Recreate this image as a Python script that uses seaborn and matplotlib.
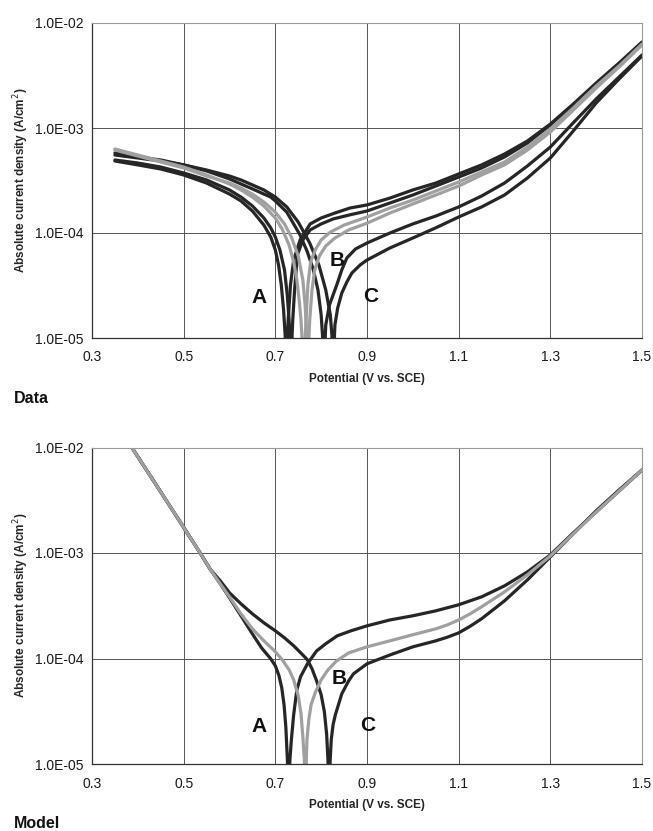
import matplotlib
matplotlib.use("Agg")
import matplotlib.pyplot as plt
from matplotlib.ticker import FixedLocator, FuncFormatter, LogLocator, MultipleLocator, NullFormatter
import numpy as np
import pandas as pd
import seaborn as sns

# ---------------------------------------------------------------------------
# Polarization curves: potential (V vs. SCE) and absolute current density (A/cm^2)
# Each curve runs through its corrosion potential, where |i| drops towards zero.
# ---------------------------------------------------------------------------

# Measured data, A (two runs), B (two runs), C (two runs)
data_A1_E = [0.35, 0.40, 0.45, 0.50, 0.55, 0.60, 0.625, 0.65, 0.675, 0.69,
             0.70, 0.707, 0.713, 0.718, 0.7215, 0.724, 0.7265, 0.728, 0.733, 0.74,
             0.754, 0.776, 0.80, 0.83, 0.863, 0.90, 0.95, 1.00, 1.05, 1.10,
             1.15, 1.20, 1.25, 1.30, 1.35, 1.40, 1.45, 1.50]
data_A1_i = [4.85e-4, 4.45e-4, 4.07e-4, 3.57e-4, 2.99e-4, 2.35e-4, 2.02e-4, 1.62e-4, 1.19e-4, 9.16e-5,
             6.89e-5, 4.96e-5, 3.20e-5, 1.85e-5, 1.05e-5, 1.0e-6, 1.05e-5, 1.48e-5, 3.20e-5, 5.53e-5,
             8.58e-5, 1.22e-4, 1.39e-4, 1.55e-4, 1.73e-4, 1.85e-4, 2.15e-4, 2.57e-4, 2.99e-4, 3.65e-4,
             4.45e-4, 5.65e-4, 7.52e-4, 1.09e-3, 1.69e-3, 2.68e-3, 4.16e-3, 6.59e-3]

data_A2_E = [0.35, 0.40, 0.45, 0.50, 0.55, 0.60, 0.625, 0.65, 0.675, 0.69,
             0.70, 0.71, 0.72, 0.726, 0.73, 0.7315, 0.734, 0.7365, 0.738, 0.742,
             0.748, 0.76, 0.776, 0.80, 0.826, 0.86, 0.90, 0.95, 1.00, 1.05,
             1.10, 1.15, 1.20, 1.25, 1.30, 1.35, 1.40, 1.45, 1.50]
data_A2_i = [4.96e-4, 4.64e-4, 4.25e-4, 3.73e-4, 3.20e-4, 2.57e-4, 2.20e-4, 1.81e-4, 1.39e-4, 1.12e-4,
             9.16e-5, 6.89e-5, 4.45e-5, 2.57e-5, 1.48e-5, 1.05e-5, 1.0e-6, 1.05e-5, 1.48e-5, 2.87e-5,
             6.17e-5, 8.58e-5, 1.07e-4, 1.22e-4, 1.36e-4, 1.48e-4, 1.62e-4, 1.93e-4, 2.30e-4, 2.80e-4,
             3.41e-4, 4.16e-4, 5.30e-4, 7.20e-4, 1.07e-3, 1.66e-3, 2.63e-3, 4.07e-3, 6.45e-3]

data_B1_E = [0.35, 0.40, 0.45, 0.50, 0.55, 0.60, 0.625, 0.65, 0.675, 0.70,
             0.715, 0.73, 0.74, 0.747, 0.752, 0.756, 0.758, 0.762, 0.7655, 0.767,
             0.771, 0.777, 0.787, 0.80, 0.82, 0.85, 0.90, 0.95, 1.00, 1.05,
             1.10, 1.15, 1.20, 1.25, 1.30, 1.35, 1.40, 1.45, 1.50]
data_B1_i = [6.31e-4, 5.53e-4, 4.85e-4, 4.25e-4, 3.57e-4, 2.93e-4, 2.57e-4, 2.20e-4, 1.81e-4, 1.39e-4,
             1.09e-4, 7.69e-5, 5.30e-5, 3.57e-5, 2.30e-5, 1.48e-5, 1.05e-5, 1.0e-6, 1.05e-5, 1.48e-5,
             3.20e-5, 5.30e-5, 6.89e-5, 8.58e-5, 1.02e-4, 1.19e-4, 1.42e-4, 1.73e-4, 2.06e-4, 2.51e-4,
             3.06e-4, 3.81e-4, 4.74e-4, 6.59e-4, 9.78e-4, 1.55e-3, 2.51e-3, 3.90e-3, 6.31e-3]

data_B2_E = [0.35, 0.40, 0.45, 0.50, 0.55, 0.60, 0.625, 0.65, 0.675, 0.70,
             0.72, 0.735, 0.75, 0.76, 0.765, 0.768, 0.7705, 0.7735, 0.775, 0.780,
             0.786, 0.796, 0.81, 0.83, 0.86, 0.90, 0.95, 1.00, 1.05, 1.10,
             1.15, 1.20, 1.25, 1.30, 1.35, 1.40, 1.45, 1.50]
data_B2_i = [6.17e-4, 5.41e-4, 4.74e-4, 4.16e-4, 3.49e-4, 2.99e-4, 2.68e-4, 2.35e-4, 1.97e-4, 1.58e-4,
             1.22e-4, 9.16e-5, 6.04e-5, 3.57e-5, 2.06e-5, 1.19e-5, 1.0e-6, 1.05e-5, 1.48e-5, 2.87e-5,
             4.45e-5, 6.04e-5, 7.52e-5, 8.96e-5, 1.07e-4, 1.24e-4, 1.55e-4, 1.89e-4, 2.30e-4, 2.80e-4,
             3.57e-4, 4.45e-4, 6.17e-4, 9.16e-4, 1.48e-3, 2.40e-3, 3.81e-3, 6.17e-3]

data_C1_E = [0.35, 0.40, 0.45, 0.50, 0.55, 0.60, 0.625, 0.65, 0.675, 0.69,
             0.70, 0.725, 0.754, 0.77, 0.783, 0.793, 0.80, 0.803, 0.806, 0.809,
             0.81, 0.818, 0.826, 0.834, 0.845, 0.856, 0.875, 0.90, 0.95, 1.00,
             1.05, 1.10, 1.15, 1.20, 1.25, 1.30, 1.35, 1.40, 1.45, 1.50]
data_C1_i = [5.78e-4, 5.30e-4, 4.96e-4, 4.45e-4, 3.90e-4, 3.27e-4, 2.93e-4, 2.63e-4, 2.35e-4, 2.20e-4,
             2.02e-4, 1.58e-4, 9.57e-5, 6.59e-5, 4.45e-5, 2.87e-5, 1.66e-5, 1.05e-5, 1.0e-6, 1.05e-5,
             1.33e-5, 2.06e-5, 2.57e-5, 3.20e-5, 4.45e-5, 5.78e-5, 7.05e-5, 8.03e-5, 1.00e-4, 1.22e-4,
             1.45e-4, 1.77e-4, 2.25e-4, 2.99e-4, 4.35e-4, 6.59e-4, 1.12e-3, 1.89e-3, 3.06e-3, 4.96e-3]

data_C2_E = [0.35, 0.40, 0.45, 0.50, 0.55, 0.60, 0.625, 0.65, 0.675, 0.70,
             0.725, 0.75, 0.775, 0.795, 0.81, 0.82, 0.8235, 0.8265, 0.829, 0.83,
             0.836, 0.845, 0.856, 0.867, 0.885, 0.90, 0.95, 1.00, 1.05, 1.10,
             1.15, 1.20, 1.25, 1.30, 1.35, 1.40, 1.45, 1.50]
data_C2_i = [5.53e-4, 5.18e-4, 4.85e-4, 4.45e-4, 3.98e-4, 3.49e-4, 3.20e-4, 2.87e-4, 2.57e-4, 2.20e-4,
             1.77e-4, 1.27e-4, 8.03e-5, 4.96e-5, 2.87e-5, 1.66e-5, 1.05e-5, 1.0e-6, 1.05e-5, 1.33e-5,
             1.93e-5, 2.68e-5, 3.41e-5, 4.16e-5, 4.96e-5, 5.53e-5, 7.20e-5, 8.96e-5, 1.12e-4, 1.42e-4,
             1.77e-4, 2.30e-4, 3.34e-4, 5.18e-4, 9.36e-4, 1.73e-3, 2.93e-3, 4.85e-3]

# Model predictions, A, B, C
model_A_E = [0.38, 0.40, 0.45, 0.50, 0.536, 0.558, 0.58, 0.60, 0.625, 0.65,
             0.67, 0.69, 0.70, 0.708, 0.714, 0.719, 0.723, 0.7265, 0.729, 0.7315,
             0.735, 0.74, 0.747, 0.755, 0.77, 0.79, 0.81, 0.835, 0.865, 0.90,
             0.95, 1.00, 1.05, 1.10, 1.15, 1.20, 1.25, 1.30, 1.35, 1.40,
             1.45, 1.50]
model_A_i = [1.11e-2, 8.18e-3, 3.79e-3, 1.75e-3, 1.0e-3, 7.0e-4, 5.10e-4, 3.76e-4, 2.54e-4, 1.71e-4,
             1.26e-4, 9.93e-5, 8.53e-5, 6.86e-5, 5.28e-5, 3.65e-5, 2.21e-5, 1.05e-5, 1.0e-6, 1.05e-5,
             1.70e-5, 2.93e-5, 5.06e-5, 6.71e-5, 8.91e-5, 1.18e-4, 1.38e-4, 1.64e-4, 1.83e-4, 2.04e-4,
             2.32e-4, 2.54e-4, 2.83e-4, 3.23e-4, 3.84e-4, 4.88e-4, 6.62e-4, 9.59e-4, 1.55e-3, 2.45e-3,
             3.87e-3, 6.12e-3]

model_B_E = [0.38, 0.40, 0.45, 0.50, 0.536, 0.558, 0.58, 0.60, 0.625, 0.65,
             0.675, 0.70, 0.715, 0.73, 0.74, 0.75, 0.756, 0.76, 0.7635, 0.7655,
             0.7675, 0.769, 0.773, 0.778, 0.787, 0.80, 0.815, 0.834, 0.86, 0.90,
             0.95, 1.00, 1.05, 1.075, 1.10, 1.125, 1.15, 1.20, 1.25, 1.30,
             1.35, 1.40, 1.45, 1.50]
model_B_i = [1.11e-2, 8.18e-3, 3.79e-3, 1.75e-3, 1.0e-3, 7.0e-4, 5.10e-4, 3.84e-4, 2.65e-4, 1.91e-4,
             1.47e-4, 1.16e-4, 9.72e-5, 7.82e-5, 6.28e-5, 4.44e-5, 3.00e-5, 1.82e-5, 1.05e-5, 1.0e-6,
             1.05e-5, 1.70e-5, 2.63e-5, 3.65e-5, 4.73e-5, 6.28e-5, 7.82e-5, 9.51e-5, 1.13e-4, 1.29e-4,
             1.47e-4, 1.68e-4, 1.91e-4, 2.08e-4, 2.32e-4, 2.65e-4, 3.09e-4, 4.28e-4, 6.21e-4, 9.39e-4,
             1.52e-3, 2.45e-3, 3.87e-3, 6.12e-3]

model_C_E = [0.38, 0.40, 0.45, 0.50, 0.536, 0.558, 0.58, 0.60, 0.625, 0.65,
             0.675, 0.70, 0.72, 0.74, 0.76, 0.77, 0.78, 0.79, 0.80, 0.807,
             0.812, 0.815, 0.8175, 0.8195, 0.822, 0.826, 0.831, 0.845, 0.86, 0.8705,
             0.90, 0.95, 1.00, 1.05, 1.075, 1.10, 1.125, 1.15, 1.20, 1.25,
             1.30, 1.35, 1.40, 1.45, 1.50]
model_C_i = [1.11e-2, 8.18e-3, 3.79e-3, 1.75e-3, 1.0e-3, 7.0e-4, 5.44e-4, 4.19e-4, 3.30e-4, 2.65e-4,
             2.18e-4, 1.83e-4, 1.57e-4, 1.32e-4, 1.08e-4, 9.72e-5, 7.99e-5, 6.15e-5, 4.53e-5, 3.13e-5,
             1.90e-5, 1.05e-5, 1.0e-6, 1.05e-5, 1.70e-5, 2.36e-5, 2.93e-5, 4.63e-5, 6.15e-5, 7.16e-5,
             8.91e-5, 1.08e-4, 1.29e-4, 1.47e-4, 1.59e-4, 1.75e-4, 2.02e-4, 2.38e-4, 3.52e-4, 5.56e-4,
             9.19e-4, 1.52e-3, 2.51e-3, 3.96e-3, 6.12e-3]

x_ticks = [0.3, 0.5, 0.7, 0.9, 1.1, 1.3, 1.5]
y_ticks = [1e-5, 1e-4, 1e-3, 1e-2]

DARK = "#262626"
GRAY = "#a0a0a0"

curves = [
    ("Data", "A1", data_A1_E, data_A1_i, DARK),
    ("Data", "A2", data_A2_E, data_A2_i, DARK),
    ("Data", "C1", data_C1_E, data_C1_i, DARK),
    ("Data", "C2", data_C2_E, data_C2_i, DARK),
    ("Data", "B1", data_B1_E, data_B1_i, GRAY),
    ("Data", "B2", data_B2_E, data_B2_i, GRAY),
    ("Model", "A", model_A_E, model_A_i, DARK),
    ("Model", "C", model_C_E, model_C_i, DARK),
    ("Model", "B", model_B_E, model_B_i, GRAY),
]

rows = []
for panel, name, E, cur, _ in curves:
    for e, c in zip(E, cur):
        rows.append({"panel": panel, "curve": name, "potential": e, "current": c})
df = pd.DataFrame(rows)

sns.set_theme(style="white")
plt.rcParams["font.family"] = ["Liberation Sans", "DejaVu Sans"]

fig = plt.figure(figsize=(6.53, 8.31), dpi=100)
W, H = 653.0, 831.0

panel_boxes = {
    "Data": (92, 23, 642, 338),
    "Model": (92, 447.5, 642, 764),
}

letter_pos = {
    "Data": [("A", 0.6635, 2.43e-5), ("B", 0.836, 5.5e-5), ("C", 0.909, 2.5e-5)],
    "Model": [("A", 0.6635, 2.28e-5), ("B", 0.839, 6.4e-5), ("C", 0.9007, 2.33e-5)],
}

for panel in ["Data", "Model"]:
    x0, y0, x1, y1 = panel_boxes[panel]
    ax = fig.add_axes([x0 / W, 1 - y1 / H, (x1 - x0) / W, (y1 - y0) / H])
    sub = df[df["panel"] == panel]
    order = [c[1] for c in curves if c[0] == panel]
    palette = {c[1]: c[4] for c in curves if c[0] == panel}
    sns.lineplot(data=sub, x="potential", y="current", hue="curve", hue_order=order,
                 palette=palette, estimator=None, sort=False, legend=False,
                 linewidth=2.3, ax=ax)
    ax.set_yscale("log")
    ax.set_xlim(0.3, 1.5)
    ax.set_ylim(1e-5, 1e-2)

    ax.xaxis.set_major_locator(FixedLocator(x_ticks))
    ax.xaxis.set_major_formatter(FuncFormatter(lambda v, _: f"{v:.1f}"))
    ax.xaxis.set_minor_locator(MultipleLocator(0.05))
    ax.yaxis.set_major_locator(FixedLocator(y_ticks))
    ax.yaxis.set_major_formatter(FuncFormatter(lambda v, _: f"{v:.1E}"))
    ax.yaxis.set_minor_locator(LogLocator(base=10, subs=np.arange(2, 10)))
    ax.yaxis.set_minor_formatter(NullFormatter())

    ax.grid(True, which="major", color="#555555", linewidth=0.7)
    ax.grid(False, which="minor")
    ax.tick_params(which="both", direction="in", colors="#333333",
                   labelcolor="#1a1a1a", labelsize=10)
    ax.tick_params(which="major", length=0, width=0.8)
    ax.tick_params(which="minor", length=3, width=0.7)
    ax.tick_params(axis="x", which="major", pad=9)
    ax.tick_params(axis="y", which="major", pad=6)

    for side in ["left", "bottom"]:
        ax.spines[side].set_color("#333333")
        ax.spines[side].set_linewidth(0.9)
    for side in ["top", "right"]:
        ax.spines[side].set_color("#9a9a9a")
        ax.spines[side].set_linewidth(0.8)

    ax.set_xlabel("Potential (V vs. SCE)", fontsize=8.5, fontweight="bold", labelpad=6)
    ax.set_ylabel("Absolute current density (A/cm$^2$)", fontsize=8.5,
                  fontweight="bold", labelpad=3)

    for letter, lx, ly in letter_pos[panel]:
        ax.text(lx, ly, letter, fontsize=15, fontweight="bold", color="#111111",
                ha="center", va="center")

fig.text(14 / W, 1 - 398 / H, "Data", fontsize=11.5, fontweight="bold",
         ha="left", va="center", color="#111111")
fig.text(14 / W, 1 - 824 / H, "Model", fontsize=11.5, fontweight="bold",
         ha="left", va="center", color="#111111")

fig.savefig("out.png", dpi=100)
